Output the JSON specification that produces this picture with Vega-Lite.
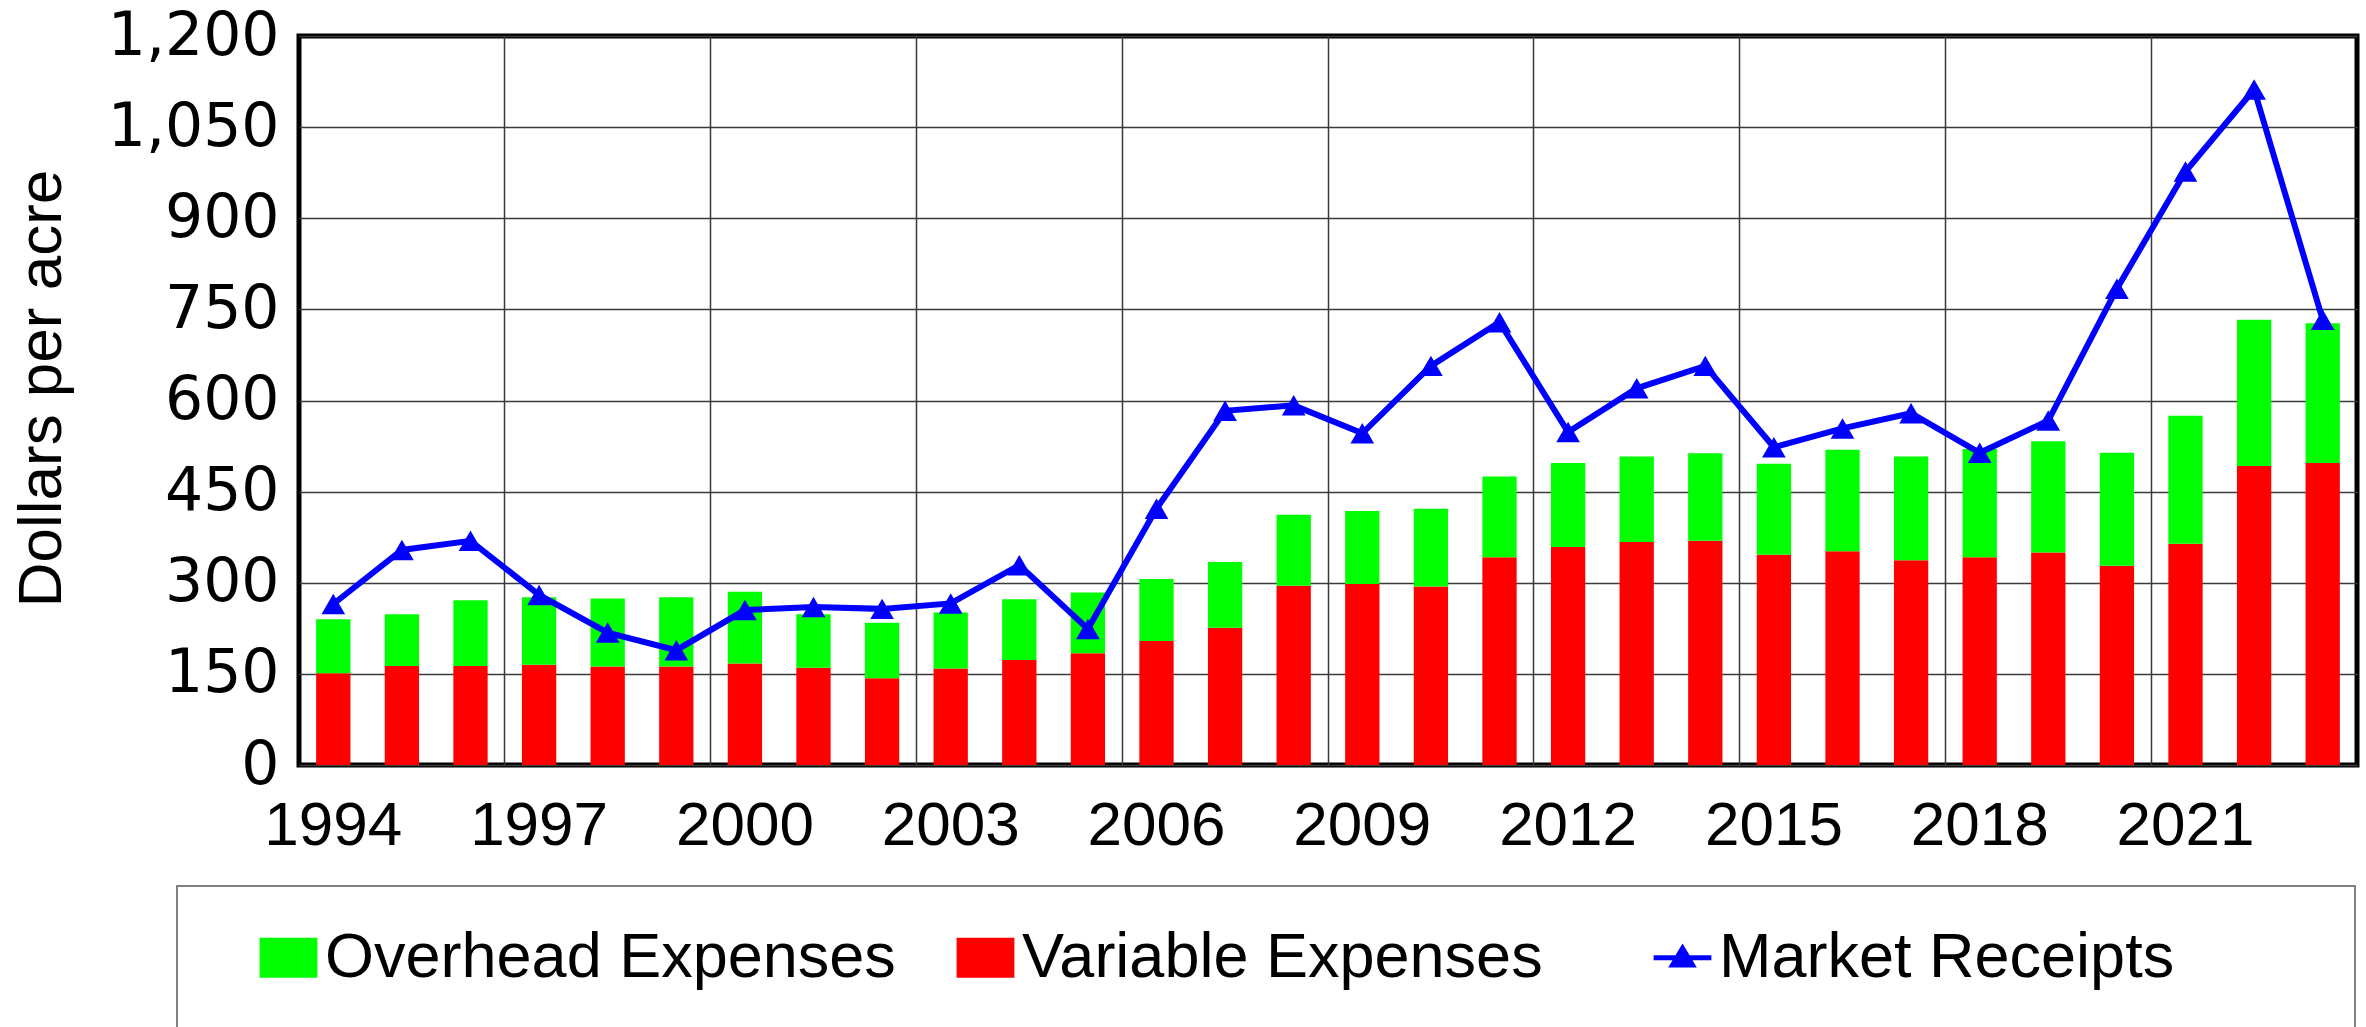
{
  "$schema": "https://vega.github.io/schema/vega-lite/v6.json",
  "width": 2058,
  "height": 729,
  "autosize": {"type": "none"},
  "padding": {"left": 299, "top": 36, "right": 9, "bottom": 262},
  "background": "white",
  "config": {
    "view": {"stroke": "black", "strokeWidth": 5},
    "font": "Liberation Sans"
  },
  "data": {
    "values": [
      {"year": 1994, "Variable Expenses": 151, "Overhead Expenses": 89, "Market Receipts": 265},
      {"year": 1995, "Variable Expenses": 163, "Overhead Expenses": 85, "Market Receipts": 354},
      {"year": 1996, "Variable Expenses": 163, "Overhead Expenses": 108, "Market Receipts": 369},
      {"year": 1997, "Variable Expenses": 165, "Overhead Expenses": 111, "Market Receipts": 280},
      {"year": 1998, "Variable Expenses": 162, "Overhead Expenses": 112, "Market Receipts": 218},
      {"year": 1999, "Variable Expenses": 162, "Overhead Expenses": 114, "Market Receipts": 189},
      {"year": 2000, "Variable Expenses": 167, "Overhead Expenses": 118, "Market Receipts": 255},
      {"year": 2001, "Variable Expenses": 160, "Overhead Expenses": 88, "Market Receipts": 260},
      {"year": 2002, "Variable Expenses": 143, "Overhead Expenses": 91, "Market Receipts": 257},
      {"year": 2003, "Variable Expenses": 159, "Overhead Expenses": 92, "Market Receipts": 266},
      {"year": 2004, "Variable Expenses": 173, "Overhead Expenses": 100, "Market Receipts": 329},
      {"year": 2005, "Variable Expenses": 184, "Overhead Expenses": 100, "Market Receipts": 224},
      {"year": 2006, "Variable Expenses": 204, "Overhead Expenses": 102, "Market Receipts": 422},
      {"year": 2007, "Variable Expenses": 226, "Overhead Expenses": 108, "Market Receipts": 583},
      {"year": 2008, "Variable Expenses": 295, "Overhead Expenses": 117, "Market Receipts": 592},
      {"year": 2009, "Variable Expenses": 298, "Overhead Expenses": 120, "Market Receipts": 546},
      {"year": 2010, "Variable Expenses": 294, "Overhead Expenses": 128, "Market Receipts": 657},
      {"year": 2011, "Variable Expenses": 342, "Overhead Expenses": 133, "Market Receipts": 729},
      {"year": 2012, "Variable Expenses": 359, "Overhead Expenses": 138, "Market Receipts": 548},
      {"year": 2013, "Variable Expenses": 367, "Overhead Expenses": 141, "Market Receipts": 620},
      {"year": 2014, "Variable Expenses": 369, "Overhead Expenses": 144, "Market Receipts": 657},
      {"year": 2015, "Variable Expenses": 346, "Overhead Expenses": 150, "Market Receipts": 523},
      {"year": 2016, "Variable Expenses": 352, "Overhead Expenses": 167, "Market Receipts": 554},
      {"year": 2017, "Variable Expenses": 337, "Overhead Expenses": 171, "Market Receipts": 579},
      {"year": 2018, "Variable Expenses": 342, "Overhead Expenses": 178, "Market Receipts": 514},
      {"year": 2019, "Variable Expenses": 350, "Overhead Expenses": 183, "Market Receipts": 567},
      {"year": 2020, "Variable Expenses": 328, "Overhead Expenses": 186, "Market Receipts": 784},
      {"year": 2021, "Variable Expenses": 364, "Overhead Expenses": 211, "Market Receipts": 977},
      {"year": 2022, "Variable Expenses": 492, "Overhead Expenses": 241, "Market Receipts": 1112},
      {"year": 2023, "Variable Expenses": 497, "Overhead Expenses": 230, "Market Receipts": 733}
    ]
  },
  "resolve": {"axis": {"x": "independent"}},
  "layer": [
    {
      "transform": [
        {"fold": ["Variable Expenses", "Overhead Expenses"], "as": ["series", "value"]}
      ],
      "mark": {"type": "bar"},
      "encoding": {
        "x": {
          "field": "year",
          "type": "ordinal",
          "scale": {"paddingInner": 0.5, "paddingOuter": 0.25},
          "axis": {
            "orient": "bottom",
            "values": [1994, 1997, 2000, 2003, 2006, 2009, 2012, 2015, 2018, 2021],
            "grid": false,
            "ticks": false,
            "domain": false,
            "labelAngle": 0,
            "labelFont": "Liberation Sans",
            "labelFontSize": 62,
            "labelColor": "black",
            "labelPadding": 30,
            "title": null
          }
        },
        "y": {
          "field": "value",
          "type": "quantitative",
          "stack": "zero",
          "scale": {"domain": [0, 1200]},
          "axis": {
            "values": [0, 150, 300, 450, 600, 750, 900, 1050, 1200],
            "format": ",.0f",
            "grid": true,
            "gridColor": "#3a3a3a",
            "gridWidth": 1.5,
            "ticks": false,
            "domain": false,
            "labelFont": "DejaVu Sans",
            "labelFontSize": 60,
            "labelColor": "black",
            "labelPadding": 20,
            "labelLimit": 400,
            "title": "Dollars per acre",
            "titleFont": "Liberation Sans",
            "titleFontSize": 62,
            "titleFontWeight": "normal",
            "titleColor": "black",
            "titleAngle": -90,
            "titleBaseline": "middle",
            "titleX": -258,
            "titleY": 352
          }
        },
        "color": {
          "field": "series",
          "type": "nominal",
          "scale": {
            "domain": ["Overhead Expenses", "Variable Expenses", "Market Receipts"],
            "range": ["#00FF00", "#FF0000", "#0000FF"]
          },
          "legend": {
            "orient": "none",
            "legendX": -122,
            "legendY": 850,
            "direction": "horizontal",
            "columns": 3,
            "gridAlign": "all",
            "title": " ",
            "titleOrient": "right",
            "titleFontSize": 4,
            "titlePadding": 141,
            "padding": 40,
            "strokeColor": "#808080",
            "labelFont": "Liberation Sans",
            "labelFontSize": 63,
            "labelColor": "black",
            "symbolOffset": 40,
            "labelOffset": 5,
            "labelLimit": 2000,
            "columnPadding": 18,
            "symbolSize": 3025,
            "symbolStrokeWidth": 5,
            "encode": {
              "legend": {
                "update": {"strokeWidth": {"value": 2}}
              },
              "symbols": {
                "update": {
                  "shape": {"signal": "datum.value === 'Market Receipts' ? 'M-1.05,0H1.05M0,-0.34L0.36,0.26L-0.36,0.26Z' : 'M-0.96,-0.64H0.96V0.64H-0.96Z'"},
                  "fill": {"signal": "datum.value === 'Overhead Expenses' ? '#00FF00' : datum.value === 'Variable Expenses' ? '#FF0000' : '#0000FF'"},
                  "stroke": {"signal": "datum.value === 'Market Receipts' ? '#0000FF' : 'transparent'"},
                  "strokeWidth": {"value": 5},
                  "opacity": {"value": 1},
                  "fillOpacity": {"value": 1}
                }
              }
            }
          }
        },
        "order": {"field": "series", "sort": "descending"}
      }
    },
    {
      "mark": {
        "type": "line",
        "strokeWidth": 6,
        "point": {"shape": "triangle-up", "filled": true, "size": 560, "opacity": 1}
      },
      "encoding": {
        "x": {
          "field": "year",
          "type": "ordinal",
          "axis": {
            "orient": "bottom",
            "values": [1997, 2000, 2003, 2006, 2009, 2012, 2015, 2018, 2021],
            "bandPosition": -0.5,
            "grid": true,
            "gridColor": "#3a3a3a",
            "gridWidth": 1.5,
            "labels": false,
            "ticks": false,
            "domain": false,
            "title": null
          }
        },
        "y": {
          "field": "Market Receipts",
          "type": "quantitative",
          "axis": {
            "values": [0, 150, 300, 450, 600, 750, 900, 1050, 1200],
            "format": ",.0f",
            "grid": true,
            "gridColor": "#3a3a3a",
            "gridWidth": 1.5,
            "ticks": false,
            "domain": false,
            "labelFont": "DejaVu Sans",
            "labelFontSize": 60,
            "labelColor": "black",
            "labelPadding": 20,
            "labelLimit": 400,
            "title": "Dollars per acre",
            "titleFont": "Liberation Sans",
            "titleFontSize": 62,
            "titleFontWeight": "normal",
            "titleColor": "black",
            "titleAngle": -90,
            "titleBaseline": "middle",
            "titleX": -258,
            "titleY": 352
          }
        },
        "color": {"datum": "Market Receipts", "type": "nominal"}
      }
    }
  ]
}
